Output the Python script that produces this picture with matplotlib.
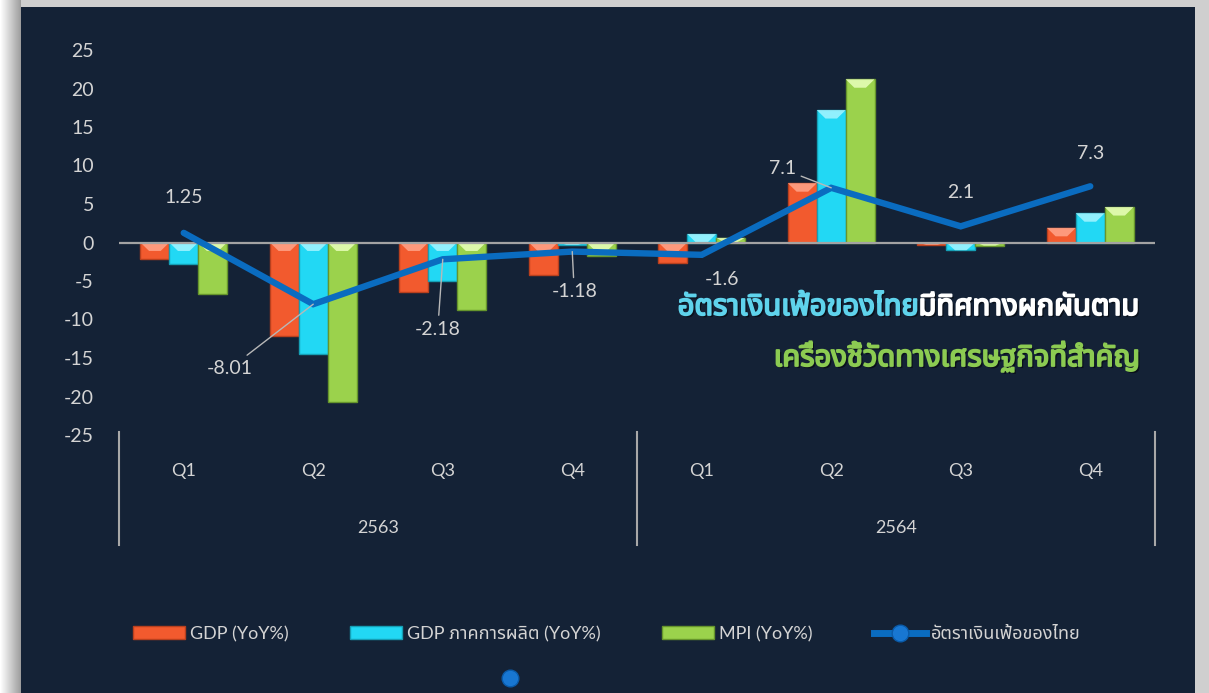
#!/usr/bin/env python3

import matplotlib
matplotlib.use('Agg')
import matplotlib.pyplot as plt
import matplotlib.patheffects as pe
import numpy as np
from matplotlib import font_manager
from matplotlib.patches import Rectangle, Polygon
from matplotlib.lines import Line2D

# data
quarters = ['Q1', 'Q2', 'Q3', 'Q4', 'Q1', 'Q2', 'Q3', 'Q4']
years = ['2563', '2564']
gdp = [-2.1, -12.2, -6.4, -4.2, -2.6, 7.7, -0.3, 1.9]
gdp_mfg = [-2.8, -14.5, -5.0, -0.3, 1.1, 17.2, -1.0, 3.8]
mpi = [-6.7, -20.7, -8.8, -1.8, 0.6, 21.2, -0.4, 4.6]
inflation = [1.25, -8.01, -2.18, -1.18, -1.6, 7.1, 2.1, 7.3]
inflation_labels = ['1.25', '-8.01', '-2.18', '-1.18', '-1.6', '7.1', '2.1', '7.3']
series_names = ['GDP (YoY%)', 'GDP ภาคการผลิต (YoY%)', 'MPI (YoY%)', 'อัตราเงินเฟ้อของไทย']


def find_thai_font():
    # look for any installed font that has Thai glyphs
    try:
        from fontTools.ttLib import TTFont
    except ImportError:
        return None
    found = []
    for f in font_manager.fontManager.ttflist:
        try:
            tt = TTFont(f.fname, fontNumber=0, lazy=True)
            cmap = tt['cmap'].getBestCmap()
            if cmap and 0x0E01 in cmap and 0x0E40 in cmap:
                found.append(f.name)
        except Exception:
            pass
    for pref in ['Noto Sans Thai', 'Noto Sans Thai UI', 'Loma', 'Garuda', 'Sarabun', 'Tlwg Typo']:
        if pref in found:
            return pref
    return found[0] if found else None


thai = find_thai_font()
fams = ['Lato']
if thai:
    fams.append(thai)
fams.append('DejaVu Sans')
plt.rcParams['font.family'] = fams
plt.rcParams['axes.unicode_minus'] = False

BG = '#142236'
TXT = '#d4d4d4'
colors = ['#f25a2e', '#22d8f4', '#9bd24c']
lights = ['#ffa58a', '#a6f5ff', '#e9ffbc']
edges = ['#b8401e', '#159fb5', '#66952c']
LINE = '#0a6cc0'

fig = plt.figure(figsize=(12.09, 6.93), dpi=100, facecolor='#cfcfcf')
# soft shadow on the left edge, then the dark panel
for i, g in enumerate(np.linspace(1.0, 0.62, 21)):
    fig.patches.append(Rectangle((i / 1209, 0), 1.2 / 1209, 1, transform=fig.transFigure,
                                 facecolor=str(g), edgecolor='none', zorder=-20))
fig.patches.append(Rectangle((21 / 1209, 0), 1174 / 1209, 686 / 693, transform=fig.transFigure,
                             facecolor=BG, edgecolor='none', zorder=-10))

ax = fig.add_axes([119 / 1209, (693 - 435) / 693, 1036 / 1209, 385 / 693])
ax.set_facecolor('none')
ax.set_xlim(-0.5, 7.5)
ax.set_ylim(-25, 25)
for s in ax.spines.values():
    s.set_visible(False)

x = np.arange(len(quarters))
w = 0.223
for k, vals in enumerate([gdp, gdp_mfg, mpi]):
    xs = x + (k - 1) * w
    bars = ax.bar(xs, vals, w, color=colors[k], edgecolor=edges[k], linewidth=1, zorder=2)
    # bevel highlight at the top of each bar
    for b, v in zip(bars, vals):
        x0 = b.get_x()
        bw = b.get_width()
        top = max(v, 0)
        h = min(abs(v), 1.1)
        ins = bw * 0.3
        poly = Polygon([[x0, top], [x0 + bw, top], [x0 + bw - ins, top - h], [x0 + ins, top - h]],
                       closed=True, facecolor=lights[k], edgecolor='none', alpha=0.85, zorder=3)
        ax.add_patch(poly)

ax.axhline(0, color='#a3a3a3', lw=1.6, zorder=4)
ax.plot(x, inflation, color=LINE, lw=4.6, solid_capstyle='round', solid_joinstyle='miter', zorder=5)

# data labels for the inflation line (offsets in pixels)
offsets = [(0, 35), (-83, -64), (-5, -70), (2, -40), (20, -25), (-49, 19), (0, 34), (0, 33)]
leaders = [False, True, True, True, False, True, False, False]
for xi, yi, lab, off, ld in zip(x, inflation, inflation_labels, offsets, leaders):
    kw = {}
    if ld:
        kw['arrowprops'] = dict(arrowstyle='-', color='#b8b8b8', lw=1.0, shrinkA=2, shrinkB=0)
    ax.annotate(lab, (xi, yi), xytext=off, textcoords='offset pixels', ha='center', va='center',
                fontsize=14, color=TXT, zorder=6, **kw)

ax.set_yticks(np.arange(-25, 26, 5))
ax.tick_params(axis='y', length=0, pad=18, labelsize=14, labelcolor=TXT)
ax.set_xticks([])

# category axis: quarter and year labels with separators
for xi, q in zip(x, quarters):
    ax.text(xi, -0.094, q, transform=ax.get_xaxis_transform(), ha='center', va='center',
            fontsize=13, color=TXT)
for j, yr in enumerate(years):
    ax.text(1.5 + 4 * j, -0.242, yr, transform=ax.get_xaxis_transform(), ha='center', va='center',
            fontsize=13, color=TXT)
for xs_ in [-0.5, 3.5, 7.5]:
    ax.plot([xs_, xs_], [0.008, -0.286], transform=ax.get_xaxis_transform(), color='#a8a8a8',
            lw=1.5, clip_on=False)


# headline text, faux-bold with a thin stroke and a soft shadow
def bold(c):
    return [pe.withSimplePatchShadow(offset=(1.5, -1.5), shadow_rgbFace='black', alpha=0.5),
            pe.withStroke(linewidth=1.3, foreground=c)]


t1 = ax.text(0.9855, 0.3325, 'มีทิศทางผกผันตาม', transform=ax.transAxes, ha='right', va='center',
             fontsize=21, fontweight='bold', color='white', zorder=7, path_effects=bold('white'))
ax.annotate('อัตราเงินเฟ้อของไทย', xy=(0, 0), xycoords=t1, ha='right', va='bottom',
            fontsize=21, fontweight='bold', color='#5fd3ec', zorder=7, path_effects=bold('#5fd3ec'))
ax.text(0.9855, 0.2026, 'เครื่องชี้วัดทางเศรษฐกิจที่สำคัญ', transform=ax.transAxes, ha='right',
        va='center', fontsize=21, fontweight='bold', color='#8ccb52', zorder=7,
        path_effects=bold('#8ccb52'))

# legend
handles = [Rectangle((0, 0), 1, 1, facecolor=colors[k], edgecolor=edges[k]) for k in range(3)]
handles.append(Line2D([], [], color=LINE, lw=5, marker='o', markersize=12,
                      markerfacecolor='#1877d2', markeredgecolor='#0a5aa8'))
leg = fig.legend(handles, series_names, loc='center left', bbox_to_anchor=(133 / 1209, 1 - 634 / 693),
                 ncol=4, frameon=False, fontsize=13, labelcolor=TXT, handlelength=2.9,
                 handletextpad=0.25, columnspacing=3.4, borderpad=0, borderaxespad=0)
fig.lines.append(Line2D([510 / 1209], [1 - 678 / 693], transform=fig.transFigure, marker='o',
                        markersize=12, color='#1877d2', markeredgecolor='#0a5aa8', lw=0))

fig.savefig('out.png', dpi=100, facecolor=fig.get_facecolor())
